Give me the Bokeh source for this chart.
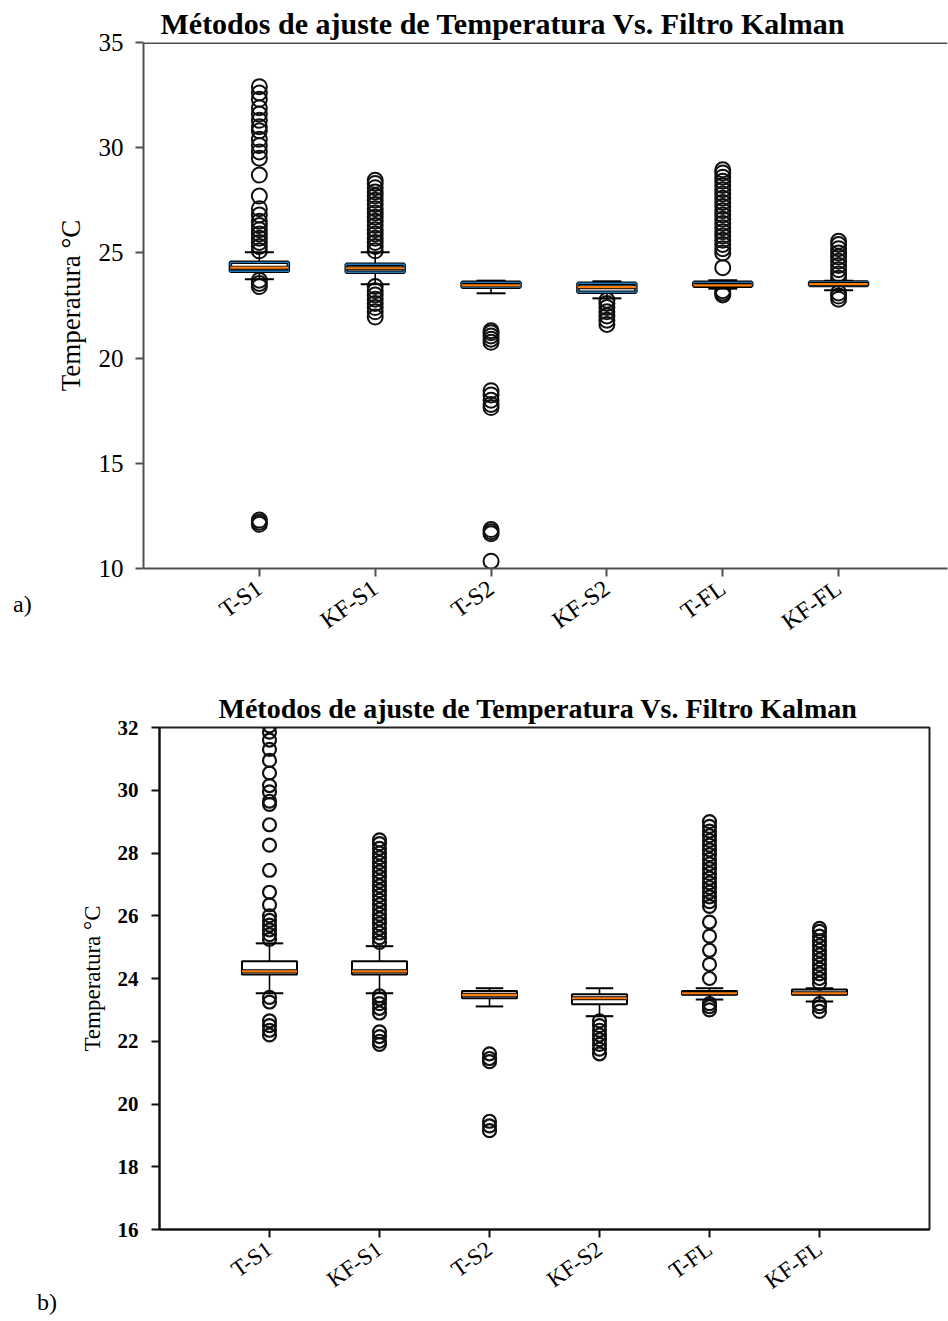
from bokeh.plotting import figure
from bokeh.models import Range1d, FixedTicker, Span, Div
from bokeh.layouts import column, row
from bokeh.embed import file_html
from bokeh.resources import INLINE

categories = ["T-S1", "KF-S1", "T-S2", "KF-S2", "T-FL", "KF-FL"]
positions = [1, 2, 3, 4, 5, 6]
title_text = "Métodos de ajuste de Temperatura Vs. Filtro Kalman"
ylabel_text = "Temperatura °C"

# ---- chart a) ----
a_yticks = [10, 15, 20, 25, 30, 35]
a_q1 = [24.13, 24.08, 23.37, 23.13, 23.42, 23.45]
a_med = [24.30, 24.27, 23.46, 23.37, 23.46, 23.52]
a_q3 = [24.55, 24.46, 23.60, 23.56, 23.60, 23.62]
a_wlo = [23.75, 23.51, 23.08, 22.84, 23.30, 23.22]
a_whi = [25.03, 25.03, 23.68, 23.65, 23.70, 23.68]
a_out_ts1 = [12.1, 12.2, 12.3, 23.4, 23.55, 23.7, 25.1, 25.3, 25.5, 25.7, 25.9, 26.1, 26.3,
             26.5, 26.8, 27.1, 27.7, 28.7, 29.5, 29.8, 30.1, 30.4, 30.8, 31.0, 31.3, 31.6,
             31.9, 32.3, 32.6, 32.9]
a_out_kfs1 = [21.95, 22.2, 22.4, 22.6, 22.8, 23.0, 23.2, 23.4, 25.1, 25.3, 25.5, 25.7, 25.9,
              26.1, 26.3, 26.5, 26.7, 26.9, 27.1, 27.3, 27.5, 27.7, 27.9, 28.1, 28.3, 28.45]
a_out_ts2 = [10.35, 11.65, 11.75, 11.85, 17.65, 17.8, 18.0, 18.25, 18.45, 20.75, 20.9, 21.05,
             21.2, 21.3]
a_out_kfs2 = [21.6, 21.8, 22.0, 22.2, 22.4, 22.6, 22.75]
a_out_tfl = [23.0, 23.1, 23.2, 24.3, 25.0, 25.2, 25.4, 25.6, 25.8, 26.0, 26.2, 26.4, 26.6,
             26.8, 27.0, 27.2, 27.4, 27.6, 27.8, 28.0, 28.2, 28.4, 28.6, 28.8, 28.95]
a_out_kffl = [22.8, 22.95, 23.1, 23.8, 24.0, 24.2, 24.4, 24.6, 24.8, 25.0, 25.2, 25.4, 25.55]

# ---- chart b) ----
b_yticks = [16, 18, 20, 22, 24, 26, 28, 30, 32]
b_q1 = [24.13, 24.13, 23.37, 23.18, 23.48, 23.48]
b_med = [24.23, 24.23, 23.48, 23.37, 23.53, 23.53]
b_q3 = [24.55, 24.55, 23.60, 23.50, 23.60, 23.65]
b_wlo = [23.53, 23.53, 23.11, 22.80, 23.33, 23.27]
b_whi = [25.12, 25.03, 23.69, 23.69, 23.69, 23.69]
b_out_ts1 = [22.2, 22.35, 22.5, 22.65, 23.25, 23.4, 25.25, 25.4, 25.55, 25.7, 25.85, 26.0,
             26.35, 26.75, 27.45, 28.25, 28.9, 29.55, 29.65, 29.95, 30.15, 30.55, 30.95,
             31.3, 31.6, 31.85, 32.05, 32.3, 32.6, 32.9]
b_out_kfs1 = [21.9, 22.0, 22.15, 22.3, 22.9, 23.05, 23.2, 23.35, 23.45, 25.15, 25.3, 25.45,
              25.6, 25.75, 25.9, 26.05, 26.2, 26.35, 26.5, 26.65, 26.8, 26.95, 27.1, 27.25,
              27.4, 27.55, 27.7, 27.85, 28.0, 28.15, 28.3, 28.42]
b_out_ts2 = [19.15, 19.3, 19.45, 21.35, 21.45, 21.6]
b_out_kfs2 = [21.6, 21.75, 21.9, 22.05, 22.2, 22.35, 22.5, 22.65]
b_out_tfl = [23.0, 23.1, 23.2, 24.0, 24.45, 24.9, 25.35, 25.8, 26.3, 26.45, 26.6, 26.75,
             26.9, 27.05, 27.2, 27.35, 27.5, 27.65, 27.8, 27.95, 28.1, 28.25, 28.4, 28.55,
             28.7, 28.85, 29.0]
b_out_kffl = [22.95, 23.1, 23.2, 23.85, 24.0, 24.15, 24.3, 24.45, 24.6, 24.75, 24.9, 25.05,
              25.2, 25.35, 25.5, 25.6]

SERIF = "Liberation Serif"
BOX_W = 0.5
CAP_W = 0.25


def draw_boxes(p, q1, med, q3, wlo, whi, outs, msize, mlw, blue):
    x = positions
    ox, oy = [], []
    for pos, vals in zip(x, outs):
        ox += [pos] * len(vals)
        oy += vals
    p.scatter(ox, oy, marker="circle", size=msize, fill_color=None,
              line_color="#111111", line_width=mlw)
    p.segment(x0=x, y0=q3, x1=x, y1=whi, line_color="black", line_width=1.6)
    p.segment(x0=x, y0=q1, x1=x, y1=wlo, line_color="black", line_width=1.6)
    l_cap = [v - CAP_W / 2 for v in x]
    r_cap = [v + CAP_W / 2 for v in x]
    p.segment(x0=l_cap, y0=whi, x1=r_cap, y1=whi, line_color="black", line_width=2)
    p.segment(x0=l_cap, y0=wlo, x1=r_cap, y1=wlo, line_color="black", line_width=2)
    left = [v - BOX_W / 2 for v in x]
    right = [v + BOX_W / 2 for v in x]
    if blue:
        p.quad(left=left, right=right, bottom=q1, top=q3, fill_color=None,
               line_color="black", line_width=3.5)
        p.quad(left=left, right=right, bottom=q1, top=q3, fill_color=None,
               line_color="#1f77b4", line_width=1.4)
    else:
        p.quad(left=left, right=right, bottom=q1, top=q3, fill_color=None,
               line_color="black", line_width=2)
    p.segment(x0=left, y0=med, x1=right, y1=med, line_color="black", line_width=4)
    p.segment(x0=left, y0=med, x1=right, y1=med, line_color="#ff7f0e", line_width=2.2)


def style_axes(p, yticks, axis_color, tick_font, tick_style, label_font, xlab_font,
               y_standoff, label_standoff):
    p.xgrid.visible = False
    p.ygrid.visible = False
    p.xaxis.ticker = FixedTicker(ticks=positions)
    p.xaxis.major_label_overrides = {pos: c for pos, c in zip(positions, categories)}
    p.xaxis.major_label_orientation = 0.62
    p.yaxis.ticker = FixedTicker(ticks=yticks)
    p.xaxis.minor_tick_line_color = None
    p.yaxis.minor_tick_line_color = None
    for ax in [p.xaxis[0], p.yaxis[0]]:
        ax.axis_line_color = axis_color
        ax.axis_line_width = 2
        ax.major_tick_line_color = axis_color
        ax.major_tick_line_width = 2
        ax.major_tick_out = 8
        ax.major_tick_in = 0
        ax.major_label_text_font = SERIF
        ax.major_label_text_color = "black"
    p.xaxis.major_label_standoff = 9
    p.yaxis.major_label_standoff = y_standoff
    p.yaxis.major_label_text_font_size = tick_font
    p.yaxis.major_label_text_font_style = tick_style
    p.xaxis.major_label_text_font_size = xlab_font
    p.yaxis.axis_label = ylabel_text
    p.yaxis.axis_label_text_font = SERIF
    p.yaxis.axis_label_text_font_size = label_font
    p.yaxis.axis_label_text_font_style = "normal"
    p.yaxis.axis_label_text_color = "black"
    p.yaxis.axis_label_standoff = label_standoff


def side_label(txt, top, left, w, h):
    html = ('<div style="margin:0;padding-top:%dpx;padding-left:%dpx;'
            'font-family:\'Liberation Serif\';font-size:24px;line-height:24px;'
            'color:black;white-space:nowrap;">%s</div>' % (top, left, txt))
    return Div(text=html, width=w, height=h, margin=0)


# ---------- figure a ----------
pa = figure(width=903, height=660, output_backend="svg", toolbar_location=None,
            x_range=Range1d(0, 6.94), y_range=Range1d(10, 35),
            min_border_left=98, min_border_right=1, min_border_top=42,
            min_border_bottom=92, background_fill_color="white",
            border_fill_color="white", outline_line_color=None,
            title=title_text, margin=0)
pa.title.align = "left"
pa.title.offset = 17
pa.title.text_font = SERIF
pa.title.text_font_style = "bold"
pa.title.text_font_size = "30px"
pa.title.text_color = "black"
pa.title.standoff = 6
style_axes(pa, a_yticks, "#505050", "25px", "normal", "27px", "24px", 12, 10)
pa.add_layout(Span(location=35, dimension="width", line_color="#505050", line_width=3))
draw_boxes(pa, a_q1, a_med, a_q3, a_wlo, a_whi,
           [a_out_ts1, a_out_kfs1, a_out_ts2, a_out_kfs2, a_out_tfl, a_out_kffl],
           15, 2.0, True)

# ---------- figure b ----------
pb = figure(width=886, height=658, output_backend="svg", toolbar_location=None,
            x_range=Range1d(0, 7), y_range=Range1d(16, 32),
            min_border_left=97, min_border_right=19, min_border_top=67,
            min_border_bottom=89, background_fill_color="white",
            border_fill_color="white", outline_line_color="#222222",
            outline_line_width=2, title=title_text, margin=0)
pb.title.align = "left"
pb.title.offset = 59
pb.title.text_font = SERIF
pb.title.text_font_style = "bold"
pb.title.text_font_size = "28px"
pb.title.text_color = "black"
pb.title.standoff = 7
style_axes(pb, b_yticks, "#111111", "21px", "bold", "23px", "23px", 13, 10)
draw_boxes(pb, b_q1, b_med, b_q3, b_wlo, b_whi,
           [b_out_ts1, b_out_kfs1, b_out_ts2, b_out_kfs2, b_out_tfl, b_out_kffl],
           13, 2.2, False)

layout = column(row(side_label("a)", 592, 13, 45, 660), pa),
                row(side_label("b)", 630, 37, 62, 658), pb))
open("out.html", "w").write(file_html(layout, INLINE))
